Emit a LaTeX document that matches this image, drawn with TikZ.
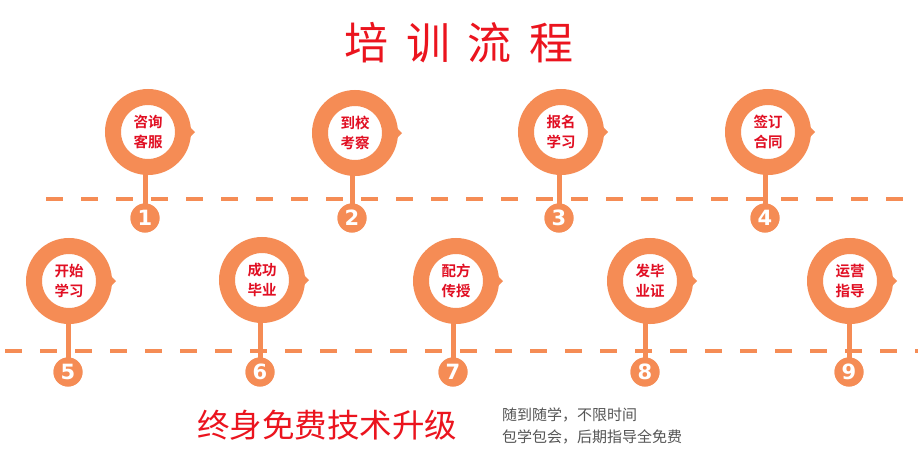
\documentclass[tikz,border=0pt]{standalone}
\usepackage{fontspec}
\setmainfont{DejaVu Sans}
\newfontfamily\cjk{Noto Sans CJK SC}
\newfontfamily\cjkb{Noto Sans CJK SC Bold}
\usetikzlibrary{calc}
\definecolor{org}{RGB}{245,140,85}
\definecolor{txtred}{RGB}{225,15,35}
\definecolor{titred}{RGB}{235,20,30}
\definecolor{gry}{RGB}{85,85,85}
\tikzset{
  ringnode/.style={circle,draw=org,line width=16pt,fill=white,minimum size=70pt,inner sep=0pt,
    font=\cjkb\fontsize{14.5}{20}\selectfont,text=txtred,align=center},
  numnode/.style={circle,fill=org,minimum size=29pt,inner sep=0pt,
    font=\bfseries\fontsize{21}{21}\selectfont,text=white},
  stemline/.style={draw=org,line width=5pt},
  dashline/.style={draw=org,line width=4pt,dash pattern=on 17pt off 18pt},
  pointer/.style={fill=org}
}
\begin{document}
\begin{tikzpicture}[x=1pt,y=-1pt]
\fill[white] (0,0) rectangle (920,467);
\useasboundingbox (0,0) rectangle (920,467);
% dashed lines
\coordinate (d1a) at (46,199); \coordinate (d1b) at (910,199);
\coordinate (d2a) at (5,351); \coordinate (d2b) at (918,351);
\draw[dashline] (d1a) -- (d1b);
\draw[dashline] (d2a) -- (d2b);
% title
\node[font=\cjk\fontsize{44}{44}\selectfont,text=titred] (title) at (459,43)
  {培\hspace{18pt}训\hspace{18pt}流\hspace{18pt}程};
% items
\foreach \n/\rx/\ry/\nx/\ny/\t in {
  1/148/132/145/218/{咨询\\客服},
  2/355/133/352/218/{到校\\考察},
  3/561/132/559/218/{报名\\学习},
  4/768/132/765/218/{签订\\合同},
  5/69/281/68/372/{开始\\学习},
  6/262/280/260/372/{成功\\毕业},
  7/456/281/453/372/{配方\\传授},
  8/650/281/645/372/{发毕\\业证},
  9/850/281/849/372/{运营\\指导}} {
  \coordinate (c\n) at (\rx,\ry);
  \node[numnode] (num\n) at (\nx,\ny) {};
  \draw[stemline] (num\n.center) -- (c\n -| num\n.center);
  \node[numnode] (numb\n) at (num\n) {\n};
  \fill[pointer] ($(c\n)+(42,-5)$) -- ($(c\n)+(47,0)$) -- ($(c\n)+(42,5)$) -- cycle;
  \node[ringnode] (ring\n) at (c\n) {\t};
}
% bottom texts
\node[font=\cjk\fontsize{32.5}{32.5}\selectfont,text=titred,anchor=west,inner sep=0pt] (slogan) at (197,425)
  {终身免费技术升级};
\node[font=\cjk\fontsize{15}{22}\selectfont,text=gry,anchor=north west,align=left,inner sep=0pt] (note) at (502,408)
  {随到随学，不限时间\\包学包会，后期指导全免费};
\end{tikzpicture}
\end{document}
